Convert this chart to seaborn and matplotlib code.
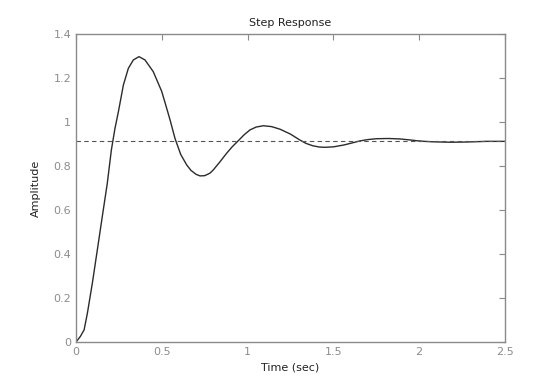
import numpy as np
import pandas as pd
import matplotlib
matplotlib.use("Agg")
import matplotlib.pyplot as plt
import seaborn as sns

sns.set_style("white")
plt.rcParams['font.family'] = ['DejaVu Sans']

# Step response
time_s = [0.0, 0.025, 0.047, 0.066, 0.095, 0.124, 0.153, 0.182, 0.206, 0.227,
          0.247, 0.276, 0.305, 0.334, 0.367, 0.402, 0.45, 0.499, 0.52, 0.548,
          0.577, 0.61, 0.645, 0.67, 0.70, 0.723, 0.75, 0.78, 0.80, 0.84, 0.878,
          0.91, 0.946, 0.98, 1.014, 1.05, 1.092, 1.14, 1.19, 1.25, 1.305,
          1.34, 1.38, 1.42, 1.451, 1.50, 1.558, 1.60, 1.655, 1.70, 1.752,
          1.82, 1.888, 1.94, 1.985, 2.03, 2.08, 2.18, 2.277, 2.393, 2.5]
amplitude = [0.0, 0.025, 0.055, 0.13, 0.267, 0.418, 0.57, 0.72, 0.873, 0.971,
             1.047, 1.168, 1.244, 1.282, 1.297, 1.282, 1.229, 1.14, 1.085, 1.01,
             0.925, 0.853, 0.805, 0.78, 0.762, 0.755, 0.756, 0.767, 0.782, 0.82, 0.858,
             0.887, 0.915, 0.942, 0.964, 0.977, 0.983, 0.979, 0.967, 0.945, 0.918,
             0.903, 0.892, 0.886, 0.885, 0.887, 0.895, 0.903, 0.914, 0.920, 0.924,
             0.925, 0.923, 0.919, 0.915, 0.912, 0.910, 0.908, 0.909, 0.912, 0.912]
steady_state = 0.912

xticks = [0, 0.5, 1, 1.5, 2, 2.5]
xtick_labels = ['0', '0.5', '1', '1.5', '2', '2.5']
yticks = [0, 0.2, 0.4, 0.6, 0.8, 1, 1.2, 1.4]
ytick_labels = ['0', '0.2', '0.4', '0.6', '0.8', '1', '1.2', '1.4']

df = pd.DataFrame({'Time': time_s, 'Amplitude': amplitude})

fig = plt.figure(figsize=(5.47, 3.76), dpi=100)
ax = fig.add_axes([0.139, 0.0904, 0.784, 0.8192])

sns.lineplot(data=df, x='Time', y='Amplitude', ax=ax, color='#2b2b2b', linewidth=1.0)
ax.axhline(steady_state, color='#555555', linestyle=(0, (4, 3)), linewidth=0.8)

ax.set_xlim(0, 2.5)
ax.set_ylim(0, 1.4)
ax.set_xticks(xticks)
ax.set_xticklabels(xtick_labels)
ax.set_yticks(yticks)
ax.set_yticklabels(ytick_labels)

axis_grey = '#8a8a8a'
for side in ['left', 'right', 'top', 'bottom']:
    ax.spines[side].set_visible(True)
    ax.spines[side].set_color(axis_grey)
    ax.spines[side].set_linewidth(1.0)
ax.tick_params(direction='in', length=4, width=0.8, color=axis_grey,
               labelcolor='#8c8c8c', labelsize=8, top=True, right=True)

ax.set_title('Step Response', fontsize=8, color='#222222', pad=6)
ax.set_xlabel('Time (sec)', fontsize=8, color='#222222', labelpad=4)
ax.set_ylabel('Amplitude', fontsize=8, color='#222222', labelpad=9)

plt.savefig('out.png', dpi=100)
plt.close()
